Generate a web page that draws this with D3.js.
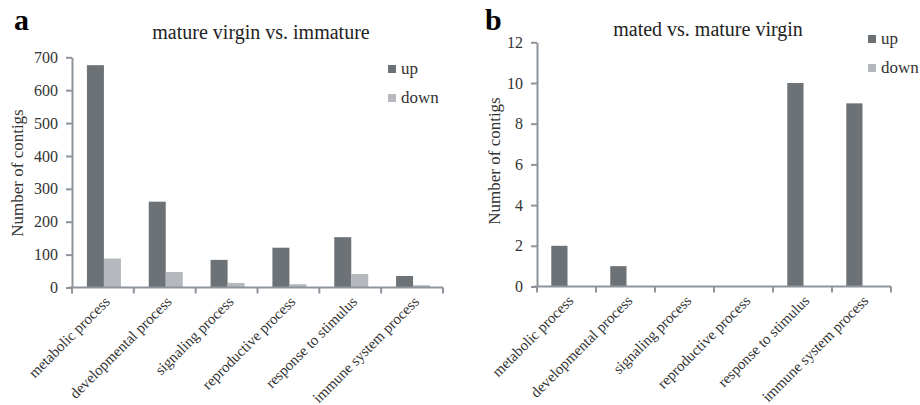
<!DOCTYPE html>
<html>
<head>
<meta charset="utf-8">
<script src="https://cdn.jsdelivr.net/npm/d3@7"></script>
<style>
  body { margin: 0; background: #fff; }
</style>
</head>
<body>
<svg id="chart" width="920" height="405"></svg>
<script>
const categories = ["metabolic process", "developmental process", "signaling process",
  "reproductive process", "response to stimulus", "immune system process"];

// panel a: mature virgin vs. immature
const upA = [676, 261, 84, 121, 153, 35];
const downA = [88, 47, 14, 10, 41, 7];
const ticksA = [0, 100, 200, 300, 400, 500, 600, 700];

// panel b: mated vs. mature virgin
const upB = [2, 1, 0, 0, 10, 9];
const downB = [0, 0, 0, 0, 0, 0];
const ticksB = [0, 2, 4, 6, 8, 10, 12];

const colUp = "#6d7277";
const colDown = "#b5b8bd";
const axisCol = "#8d949b";
const serif = "'Liberation Serif', 'Times New Roman', serif";

const svg = d3.select("#chart");

function panel(opt) {
  const g = svg.append("g");
  const x = d3.scaleBand().domain(categories).range([opt.x0, opt.x1]);
  const y = d3.scaleLinear().domain([0, opt.max]).range([opt.y0, opt.y1]);
  const bw = x.bandwidth() * 0.275;

  // bars
  const rows = categories.map((c, i) => ({ c, up: opt.up[i], down: opt.down[i] }));
  const grp = g.selectAll("g.cat").data(rows).enter().append("g")
    .attr("transform", d => `translate(${x(d.c) + x.bandwidth() / 2},0)`);
  grp.append("rect")
    .attr("x", -bw + 1).attr("width", bw)
    .attr("y", d => y(d.up)).attr("height", d => y(0) - y(d.up))
    .attr("fill", colUp);
  grp.append("rect")
    .attr("x", 1).attr("width", bw)
    .attr("y", d => y(d.down)).attr("height", d => y(0) - y(d.down))
    .attr("fill", colDown);

  // y axis
  const ya = g.append("g")
    .attr("transform", `translate(${opt.x0},0)`)
    .call(d3.axisLeft(y).tickValues(opt.ticks).tickSize(6).tickSizeOuter(0).tickPadding(8));
  ya.selectAll("path,line").attr("stroke", axisCol).attr("stroke-width", 2);
  ya.selectAll("text").style("font-size", "16px").style("fill", "#333")
    .style("font-family", serif);

  // x axis line and boundary ticks
  g.append("line")
    .attr("x1", opt.x0 - 3).attr("x2", opt.x1)
    .attr("y1", y(0)).attr("y2", y(0))
    .attr("stroke", axisCol).attr("stroke-width", 2);
  const bounds = categories.map(c => x(c)).concat([opt.x1]);
  g.selectAll("line.xt").data(bounds).enter().append("line")
    .attr("x1", d => d).attr("x2", d => d)
    .attr("y1", y(0)).attr("y2", y(0) + 6)
    .attr("stroke", axisCol).attr("stroke-width", 2);

  // category labels
  g.selectAll("text.xl").data(categories).enter().append("text")
    .attr("text-anchor", "end")
    .style("font-family", serif).style("font-size", "15px").style("fill", "#333")
    .attr("transform", c => `translate(${x(c) + x.bandwidth() / 2 + 8},${y(0) + 15}) rotate(-45)`)
    .text(c => c);

  // y label
  g.append("text")
    .attr("text-anchor", "middle")
    .style("font-family", serif).style("font-size", "17px").style("fill", "#333")
    .attr("transform", `translate(${opt.ylx},${opt.yly}) rotate(-90)`)
    .text("Number of contigs");

  // title
  g.append("text")
    .attr("text-anchor", "middle")
    .style("font-family", serif).style("font-size", "20px").style("fill", "#222")
    .attr("x", opt.tx).attr("y", opt.ty)
    .text(opt.title);

  // panel letter
  g.append("text")
    .style("font-family", serif).style("font-size", "30px").style("font-weight", "bold").style("fill", "#000")
    .attr("x", opt.lx).attr("y", opt.ly)
    .text(opt.letter);

  // legend
  const lg = g.append("g").attr("transform", `translate(${opt.legx},${opt.legy})`);
  [["up", colUp], ["down", colDown]].forEach(([t, c], i) => {
    lg.append("rect").attr("x", 0).attr("y", i * 29).attr("width", 8).attr("height", 8).attr("fill", c);
    lg.append("text").attr("x", 13).attr("y", i * 29 + 9)
      .style("font-family", serif).style("font-size", "17px").style("fill", "#333")
      .text(t);
  });
}

panel({
  x0: 72, x1: 443, y0: 287.5, y1: 57.3, max: 700, ticks: ticksA,
  up: upA, down: downA, title: "mature virgin vs. immature", tx: 261, ty: 39,
  letter: "a", lx: 14, ly: 30, ylx: 23, yly: 173, legx: 388, legy: 65
});

panel({
  x0: 537, x1: 891, y0: 286.5, y1: 42.3, max: 12, ticks: ticksB,
  up: upB, down: downB, title: "mated vs. mature virgin", tx: 708, ty: 36,
  letter: "b", lx: 485, ly: 30, ylx: 500, yly: 161, legx: 868, legy: 35
});
</script>
</body>
</html>
